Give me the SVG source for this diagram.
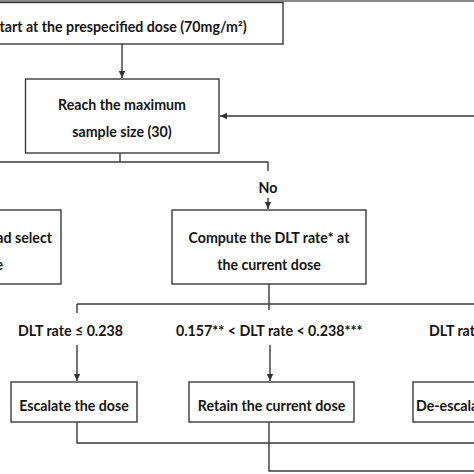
<svg xmlns="http://www.w3.org/2000/svg" width="474" height="474" viewBox="0 0 474 474">
<defs>
<marker id="ah" markerWidth="8" markerHeight="8" refX="7" refY="4" orient="auto" markerUnits="userSpaceOnUse">
<path d="M0,0.8 L7,4 L0,7.2 Z" fill="#333"/>
</marker>
<style>
.box{fill:#fff;stroke:#3a3a3a;stroke-width:1.4}
.ln{fill:none;stroke:#3a3a3a;stroke-width:1.4}
text{font-family:Lato,"Liberation Sans",sans-serif;font-weight:bold;font-size:14.2px;fill:#141414}
.c{text-anchor:middle}
</style>
</defs>
<rect x="0" y="0" width="474" height="474" fill="#fff"/>
<rect x="0" y="0" width="474" height="2" fill="#8a8a8a"/>
<g id="start">
<rect class="box" x="-10" y="2.5" width="293" height="41.5"/>
<text x="-8" y="32">Start at the prespecified dose (70mg/m²)</text>
</g>
<g id="reach">
<rect class="box" x="25.5" y="79" width="193.5" height="74"/>
<text class="c" x="122" y="110">Reach the maximum</text>
<text class="c" x="122" y="137">sample size (30)</text>
</g>
<g id="stop">
<rect class="box" x="-10" y="210" width="71" height="74"/>
<text x="52" y="243" text-anchor="end">ad select</text>
<text x="3" y="270" text-anchor="end">e</text>
</g>
<g id="compute">
<rect class="box" x="172" y="210" width="194" height="74"/>
<text class="c" x="269" y="243">Compute the DLT rate* at</text>
<text class="c" x="269" y="270">the current dose</text>
</g>
<g id="escalate">
<rect class="box" x="11" y="382" width="126" height="40"/>
<text class="c" x="74" y="411">Escalate the dose</text>
</g>
<g id="retain">
<rect class="box" x="189" y="382" width="165" height="40"/>
<text class="c" x="271.5" y="411">Retain the current dose</text>
</g>
<g id="deescalate">
<rect class="box" x="413" y="382" width="80" height="40"/>
<text x="416" y="411">De-escalate the dose</text>
</g>
<g id="connectors">
<path class="ln" d="M122,44 V78" marker-end="url(#ah)"/>
<path class="ln" d="M474,116 H220" marker-end="url(#ah)"/>
<path class="ln" d="M120,153 V162 M0,162 H268 V171"/>
<text class="c" x="268" y="193">No</text>
<path class="ln" d="M268,198 V209" marker-end="url(#ah)"/>
<path class="ln" d="M269,284 V310 M77,304 H474 M77,304 V313"/>
<text x="18" y="336">DLT rate ≤ 0.238</text>
<text x="176" y="336">0.157** &lt; DLT rate &lt; 0.238***</text>
<text x="429" y="336">DLT rate ≥ 0.238</text>
<path class="ln" d="M77,345 V381" marker-end="url(#ah)"/>
<path class="ln" d="M270,345 V381" marker-end="url(#ah)"/>
<path class="ln" d="M77,422 V443 H474"/>
<path class="ln" d="M269,422 V471 H474"/>
</g>
</svg>
